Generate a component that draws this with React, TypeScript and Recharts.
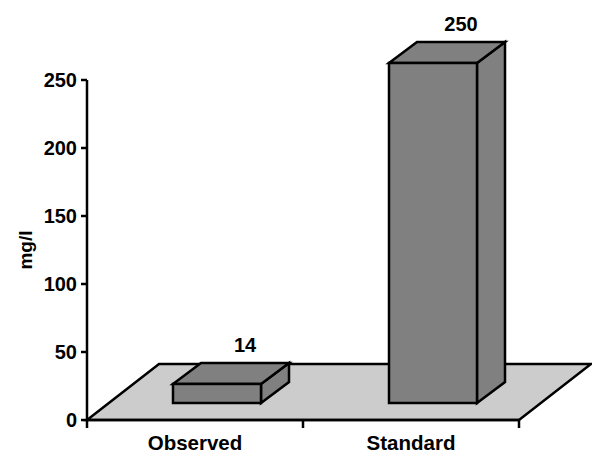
import { BarChart, Bar, XAxis, YAxis, ReferenceArea } from 'recharts'

const categories = ['Observed', 'Standard']
const values = [14, 250]
const yTicks = [0, 50, 100, 150, 200, 250]

const data = categories.map((name, i) => ({ name, value: values[i] }))

const font = '"Liberation Sans", Arial, sans-serif'
const BAR_FILL = '#808080'
const FLOOR_FILL = '#cccccc'

// offset of the bar front face from the floor edge, and the bar depth
const SHIFT_X = 22
const SHIFT_Y = -17
const DEPTH_X = 28
const DEPTH_Y = -21

function Box(props: any) {
  const { x, y, width: w, height: h, value } = props
  const fx = x + SHIFT_X
  const fy = y + SHIFT_Y
  const bx = fx + DEPTH_X
  const by = fy + DEPTH_Y
  const v = Array.isArray(value) ? value[1] - value[0] : value
  return (
    <g stroke="#000" strokeWidth={2.5} strokeLinejoin="miter" fill={BAR_FILL}>
      <polygon points={`${fx + w},${fy} ${bx + w},${by} ${bx + w},${by + h} ${fx + w},${fy + h}`} />
      <polygon points={`${fx},${fy} ${bx},${by} ${bx + w},${by} ${fx + w},${fy}`} />
      <rect x={fx} y={fy} width={w} height={h} />
      <text x={bx + w / 2} y={by - 11} textAnchor="middle" stroke="none" fill="#000"
        fontFamily={font} fontWeight="bold" fontSize={20}>{v}</text>
    </g>
  )
}

function Floor(props: any) {
  const { x, y, width: w, height: h } = props
  const yb = y + h
  const dx = 72
  const dy = -56
  return (
    <g stroke="#000" strokeWidth={2.5}>
      <polygon fill={FLOOR_FILL} points={`${x},${yb} ${x + dx},${yb + dy} ${x + w + dx},${yb + dy} ${x + w},${yb}`} />
      {[0, 0.5, 1].map(f => (
        <line key={f} x1={x + w * f} y1={yb} x2={x + w * f} y2={yb + 8} />
      ))}
    </g>
  )
}

export default function App() {
  return (
    <div style={{ width: 592, height: 453 }}>
      <style>{'body{margin:0}'}</style>
      <BarChart width={592} height={453} data={data} margin={{ top: 80, right: 73, bottom: 3, left: 0 }}>
        <ReferenceArea y1={0} y2={250} shape={Floor} ifOverflow="visible" />
        <XAxis dataKey="name" height={30} tickLine={false} axisLine={{ stroke: '#000', strokeWidth: 2.5 }}
          tickSize={8} tickMargin={7}
          tick={{ fill: '#000', fontFamily: font, fontWeight: 'bold', fontSize: 20.5 }} />
        <YAxis width={87} domain={[0, 250]} ticks={yTicks} interval={0} tickSize={6} tickMargin={4}
          axisLine={{ stroke: '#000', strokeWidth: 2.5 }} tickLine={{ stroke: '#000', strokeWidth: 2.5 }}
          tick={{ fill: '#000', fontFamily: font, fontWeight: 'bold', fontSize: 20 }}
          label={{ value: 'mg/l', angle: -90, position: 'center', dx: -18, fill: '#000', fontFamily: font, fontWeight: 'bold', fontSize: 19 }} />
        <Bar dataKey="value" barSize={88} fill={BAR_FILL} shape={Box} isAnimationActive={false} />
      </BarChart>
    </div>
  )
}
